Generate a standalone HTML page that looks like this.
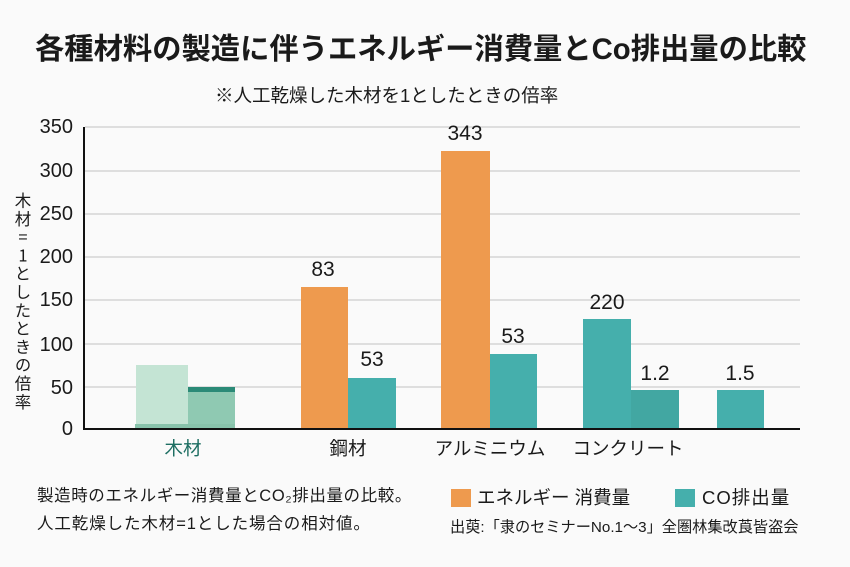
<!DOCTYPE html>
<html><head><meta charset="utf-8">
<style>
html,body{margin:0;padding:0;}
body{width:850px;height:567px;background:#fafafa;position:relative;overflow:hidden;font-family:"Liberation Sans","Noto Sans CJK JP",sans-serif;color:#1a1a1a;}
.a{position:absolute;white-space:nowrap;}
.t{position:absolute;white-space:nowrap;text-align:center;}
.g{position:absolute;left:85px;width:715px;height:1.5px;background:#dedede;}
.b{position:absolute;}
.tk{position:absolute;right:777px;font-size:20px;height:24px;line-height:24px;text-align:right;color:#1a1a1a;}
.v{position:absolute;font-size:21px;height:24px;line-height:24px;width:80px;text-align:center;color:#1a1a1a;}
.xl{position:absolute;font-size:18.5px;height:24px;line-height:24px;width:140px;text-align:center;font-family:"Noto Sans CJK JP",sans-serif;}
</style></head><body>

<div class="a" style="left:35px;top:32px;font-size:29.3px;line-height:36px;font-weight:bold;">各種材料の製造に伴うエネルギー消費量とCo排出量の比較</div>
<div class="a" style="left:215px;top:84px;font-size:18.5px;line-height:24px;">※人工乾燥した木材を1としたときの倍率</div>

<!-- gridlines -->
<div class="g" style="top:126px"></div>
<div class="g" style="top:170px"></div>
<div class="g" style="top:213px"></div>
<div class="g" style="top:256px"></div>
<div class="g" style="top:299px"></div>
<div class="g" style="top:343px"></div>
<div class="g" style="top:386px"></div>

<!-- ticks -->
<div class="tk" style="top:115px">350</div>
<div class="tk" style="top:159px">300</div>
<div class="tk" style="top:202px">250</div>
<div class="tk" style="top:245px">200</div>
<div class="tk" style="top:288px">150</div>
<div class="tk" style="top:333px">100</div>
<div class="tk" style="top:376px">50</div>
<div class="tk" style="top:417px">0</div>

<!-- y label -->
<div class="a" style="left:13px;top:192px;font-size:16.5px;writing-mode:vertical-rl;text-orientation:upright;letter-spacing:1.8px;font-family:'Noto Sans CJK JP',sans-serif;line-height:20px;">木材=1としたときの倍率</div>

<!-- bars -->
<div class="b" style="left:136px;top:365px;width:52px;height:64px;background:#c4e4d4;"></div>
<div class="b" style="left:188px;top:392px;width:47px;height:37px;background:#8fc9b2;"></div>
<div class="b" style="left:188px;top:387px;width:47px;height:5px;background:#2b8a77;"></div>
<div class="b" style="left:135px;top:424px;width:100px;height:5px;background:#88c3ab;"></div>

<div class="b" style="left:301px;top:287px;width:47px;height:142px;background:#ee9a4e;"></div>
<div class="b" style="left:348px;top:378px;width:48px;height:51px;background:#45afac;"></div>
<div class="b" style="left:441px;top:151px;width:49px;height:278px;background:#ee9a4e;"></div>
<div class="b" style="left:490px;top:354px;width:47px;height:75px;background:#45afac;"></div>
<div class="b" style="left:583px;top:319px;width:48px;height:110px;background:#45afac;"></div>
<div class="b" style="left:631px;top:390px;width:48px;height:39px;background:#42a7a2;"></div>
<div class="b" style="left:717px;top:390px;width:47px;height:39px;background:#45afac;"></div>

<!-- axes -->
<div class="b" style="left:83px;top:127px;width:2px;height:303px;background:#111;"></div>
<div class="b" style="left:83px;top:428px;width:717px;height:2px;background:#111;"></div>

<!-- values -->
<div class="v" style="left:283px;top:258px">83</div>
<div class="v" style="left:332px;top:348px">53</div>
<div class="v" style="left:425px;top:122px">343</div>
<div class="v" style="left:473px;top:325px">53</div>
<div class="v" style="left:567px;top:291px">220</div>
<div class="v" style="left:615px;top:362px">1.2</div>
<div class="v" style="left:700px;top:362px">1.5</div>

<!-- x labels -->
<div class="xl" style="left:113px;top:436px;color:#1d6e62;">木材</div>
<div class="xl" style="left:278px;top:436px;">鋼材</div>
<div class="xl" style="left:420px;top:436px;">アルミニウム</div>
<div class="xl" style="left:558px;top:436px;">コンクリート</div>

<!-- footnote -->
<div class="a" style="left:37px;top:484px;font-size:16.5px;line-height:24px;letter-spacing:0.6px;">製造時のエネルギー消費量とCO₂排出量の比較。</div>
<div class="a" style="left:37px;top:512px;font-size:16.5px;line-height:24px;letter-spacing:0.9px;">人工乾燥した木材=1とした場合の相対値。</div>

<!-- legend -->
<div class="b" style="left:451px;top:489px;width:20px;height:18px;background:#ee9a4e;"></div>
<div class="a" style="left:477px;top:486px;font-size:18.5px;line-height:24px;">エネルギー 消費量</div>
<div class="b" style="left:675px;top:489px;width:20px;height:18px;background:#45afac;"></div>
<div class="a" style="left:702px;top:486px;font-size:18.5px;line-height:24px;letter-spacing:1px;">CO排出量</div>
<div class="a" style="left:450px;top:517px;font-size:15.2px;line-height:22px;">出萸:「隶のセミナーNo.1～3」全圏林集改莨皆盗会</div>

</body></html>
